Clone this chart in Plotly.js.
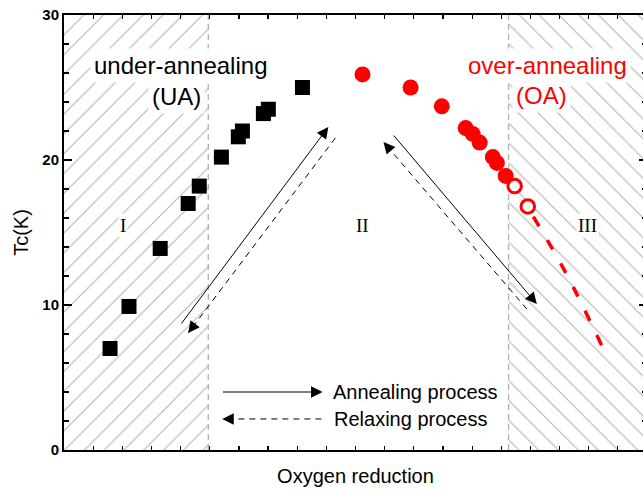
<!DOCTYPE html>
<html><head><meta charset="utf-8">
<script src="https://cdn.plot.ly/plotly-3.0.1.min.js"></script>
<style>html,body{margin:0;padding:0;overflow:hidden;background:#fff}#chart{width:647px;height:490px}</style>
</head><body><div id="chart"></div>
<script>
// ---- data ----
// Under-annealing (UA) samples
const uaX  = [1.58, 2.23, 3.30, 4.26, 4.64, 5.40, 5.98, 6.12, 6.84, 7.01, 8.18];
const uaTc = [7.0, 9.9, 13.9, 17.0, 18.2, 20.2, 21.6, 22.0, 23.2, 23.5, 25.0];
// Over-annealing (OA) samples (filled)
const oaX  = [10.24, 11.89, 12.96, 13.78, 14.02, 14.26, 14.71, 14.85, 15.15];
const oaTc = [25.9, 25.0, 23.7, 22.2, 21.8, 21.2, 20.2, 19.8, 18.9];
// Over-annealing samples (open)
const oaOpenX  = [15.46, 15.91];
const oaOpenTc = [18.2, 16.8];
// Extrapolated OA trend (dashed)
const trendX  = [16.1, 17.22, 18.52];
const trendTc = [16.1, 12.2, 6.9];
// Region boundaries along the oxygen-reduction axis
const regionEdges  = [0, 4.95, 15.25, 20];
const regionLabels = ['I', 'II', 'III'];
const yTickVals = [0, 10, 20, 30];
const yTickText = ['0', '10', '20', '30'];
// Process arrows (tail -> head)
const annealArrows = [
  {from: [3.99, 8.62],  to: [9.07, 22.28]},
  {from: [11.27, 21.79], to: [16.22, 10.07]},
  {from: [5.40, 4.0],   to: [8.87, 4.0]}
];
const relaxArrows = [
  {from: [9.31, 21.52], to: [4.26, 8.07]},
  {from: [15.88, 9.72], to: [10.96, 21.24]},
  {from: [8.83, 2.14],  to: [5.43, 2.14]}
];

// ---- layout constants ----
const W = 647, H = 490, M = {l: 64, r: 0, t: 15, b: 40};
const xRange = [0, 20], yRange = [0, 30];
const pxX = (W - M.l - M.r) / (xRange[1] - xRange[0]);
const pxY = (H - M.t - M.b) / (yRange[1] - yRange[0]);
const FONT = 'Arial, "Liberation Sans", sans-serif';
const SERIF = '"Times New Roman", "Liberation Serif", serif';
const HATCH = '#b4b4b4';

function hatchTrace(x0, x1, shape) {
  return {
    x: [x0, x1, x1, x0, x0], y: [yRange[0], yRange[0], yRange[1], yRange[1], yRange[0]],
    mode: 'lines', fill: 'toself', line: {width: 0, color: 'rgba(0,0,0,0)'},
    fillcolor: 'rgba(0,0,0,0)',
    fillpattern: {shape: shape, size: 14, solidity: 0.08, fgcolor: HATCH, bgcolor: 'rgba(0,0,0,0)'},
    hoverinfo: 'skip', showlegend: false
  };
}

const traces = [
  hatchTrace(regionEdges[0], regionEdges[1], '/'),
  hatchTrace(regionEdges[2], regionEdges[3], '\\'),
  {x: trendX, y: trendTc, mode: 'lines', line: {color: '#ff0000', width: 3.5, dash: '11px,16px', shape: 'spline'}, showlegend: false},
  {x: uaX, y: uaTc, mode: 'markers', marker: {symbol: 'square', size: 15, color: '#000'}, showlegend: false},
  {x: oaX, y: oaTc, mode: 'markers', marker: {symbol: 'circle', size: 16, color: '#ff0000'}, showlegend: false},
  {x: oaOpenX, y: oaOpenTc, mode: 'markers', marker: {symbol: 'circle', size: 13.5, color: '#fff', line: {color: '#ff0000', width: 3}}, showlegend: false}
];

const shapes = [];
[regionEdges[1], regionEdges[2]].forEach(xv => shapes.push({
  type: 'line', xref: 'x', yref: 'y', x0: xv, x1: xv, y0: yRange[0], y1: yRange[1],
  line: {color: '#b0b0b0', width: 1.3, dash: '6px,4px'}, layer: 'below'
}));

const annotations = [];
const HEAD = 2.3;
function arrowHead(a, dashed) {
  if (dashed) {
    shapes.push({type: 'line', xref: 'x', yref: 'y', x0: a.from[0], y0: a.from[1], x1: a.to[0], y1: a.to[1],
      line: {color: '#000', width: 1, dash: '6px,5px'}});
    const dx = (a.to[0] - a.from[0]) * pxX, dy = -(a.to[1] - a.from[1]) * pxY;
    const L = Math.hypot(dx, dy);
    annotations.push({x: a.to[0], y: a.to[1], xref: 'x', yref: 'y', text: '', showarrow: true,
      ax: -dx / L * 6, ay: -dy / L * 6, arrowhead: 2, arrowsize: HEAD, arrowwidth: 1, arrowcolor: '#000', standoff: 0});
  } else {
    annotations.push({x: a.to[0], y: a.to[1], ax: a.from[0], ay: a.from[1], xref: 'x', yref: 'y', axref: 'x', ayref: 'y',
      text: '', showarrow: true, arrowhead: 2, arrowsize: HEAD, arrowwidth: 1, arrowcolor: '#000', standoff: 0});
  }
}
annealArrows.forEach(a => arrowHead(a, false));
relaxArrows.forEach(a => arrowHead(a, true));

const labelX = [2.03, 10.24, 17.97];
regionLabels.forEach((t, i) => annotations.push({x: labelX[i], y: 15.5, xref: 'x', yref: 'y', text: t, showarrow: false,
  font: {family: SERIF, size: 19, color: '#000'}, bgcolor: i === 1 ? 'rgba(0,0,0,0)' : '#fff', borderpad: 1}));

function textBox(t, x, y, color) {
  annotations.push({x: x, y: y, xref: 'x', yref: 'y', text: t, showarrow: false,
    font: {family: FONT, size: 24, color: color}, bgcolor: '#fff', borderpad: 3});
}
textBox('under-annealing', 3.99, 26.55, '#000');
textBox('(UA)', 3.85, 24.35, '#000');
textBox('over-annealing', 16.6, 26.55, '#ff0000');
textBox('(OA)', 16.39, 24.45, '#ff0000');

annotations.push({x: 9.16, y: 4.0, xref: 'x', yref: 'y', xanchor: 'left', text: 'Annealing process', showarrow: false,
  font: {family: FONT, size: 20, color: '#000'}});
annotations.push({x: 9.18, y: 2.14, xref: 'x', yref: 'y', xanchor: 'left', text: 'Relaxing process', showarrow: false,
  font: {family: FONT, size: 20, color: '#000'}});

const layout = {
  width: W, height: H, margin: M, paper_bgcolor: '#fff', plot_bgcolor: '#fff',
  showlegend: false,
  font: {family: FONT, color: '#000'},
  xaxis: {range: xRange, dtick: 1, tick0: 0, ticks: 'inside', ticklen: 4, tickwidth: 1.2, tickcolor: '#000',
    showticklabels: false, showgrid: false, zeroline: false, showline: true, linewidth: 2, linecolor: '#000', mirror: 'ticks',
    title: {text: 'Oxygen reduction', font: {family: FONT, size: 20}, standoff: 18}},
  yaxis: {range: yRange, tickvals: yTickVals, ticktext: yTickText, ticks: 'inside', ticklen: 8, tickwidth: 1.5, tickcolor: '#000',
    minor: {dtick: 2, tick0: 0, ticks: 'inside', ticklen: 5, tickwidth: 1.5, tickcolor: '#000', showgrid: false},
    tickfont: {family: FONT, size: 15, weight: 'bold'},
    showgrid: false, zeroline: false, showline: true, linewidth: 2, linecolor: '#000', mirror: 'ticks',
    title: {text: 'Tc(K)', font: {family: FONT, size: 20}, standoff: 8}},
  shapes: shapes, annotations: annotations
};

Plotly.newPlot('chart', traces, layout, {displayModeBar: false, staticPlot: true});
</script></body></html>
